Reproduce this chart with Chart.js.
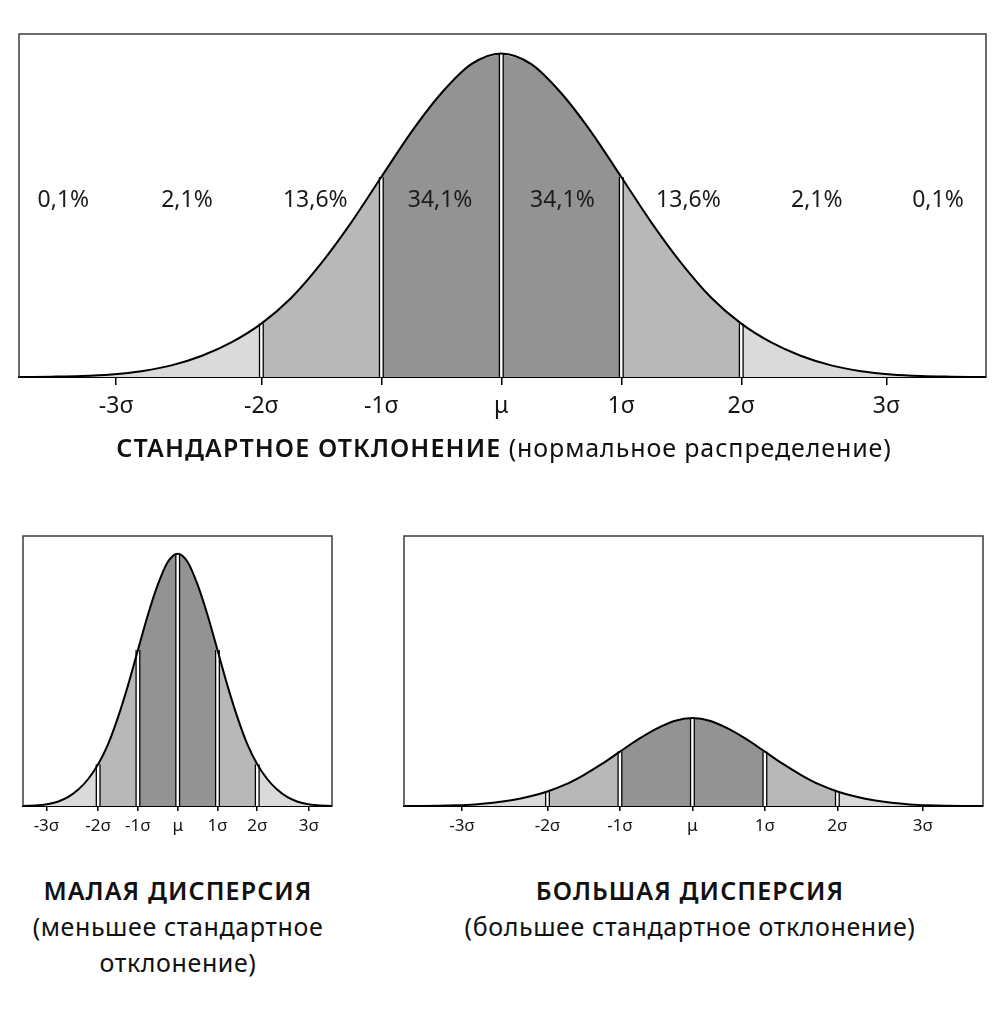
<!DOCTYPE html>
<html lang="ru">
<head>
<meta charset="utf-8">
<title>Стандартное отклонение</title>
<script src="https://cdn.jsdelivr.net/npm/chart.js@4.4.1/dist/chart.umd.min.js"></script>
<style>
  html, body { margin: 0; padding: 0; background: #fff; }
  body { width: 1006px; height: 1024px; position: relative; overflow: hidden; font-family: "Noto Sans", sans-serif; color: #111; }
  canvas { position: absolute; }
  .caption { position: absolute; text-align: center; font-size: 25px; line-height: 36px; letter-spacing: 0.6px; white-space: nowrap; z-index: 2; }
  .caption b { font-weight: 600; letter-spacing: 1.1px; }
  .wide { letter-spacing: 0.9px; }
</style>
</head>
<body>
<canvas id="mainChart" width="1006" height="430" style="left:0;top:0"></canvas>
<canvas id="narrowChart" width="360" height="340" style="left:0;top:500px"></canvas>
<canvas id="wideChart" width="626" height="340" style="left:380px;top:500px"></canvas>

<div class="caption wide" style="left:0;top:429px;width:1008px"><b>СТАНДАРТНОЕ ОТКЛОНЕНИЕ</b> (нормальное распределение)</div>
<div class="caption" style="left:3px;top:872px;width:350px"><b>МАЛАЯ ДИСПЕРСИЯ</b><br>(меньшее стандартное<br>отклонение)</div>
<div class="caption" style="left:390px;top:872px;width:600px"><b>БОЛЬШАЯ ДИСПЕРСИЯ</b><br>(большее стандартное отклонение)</div>

<script>
// bell curve: position in sigma, height relative to the peak
const sigmaSteps = [-4, -3.75, -3.5, -3.25, -3, -2.75, -2.5, -2.25, -2, -1.75, -1.5, -1.25, -1, -0.75, -0.5, -0.25,
                    0, 0.25, 0.5, 0.75, 1, 1.25, 1.5, 1.75, 2, 2.25, 2.5, 2.75, 3, 3.25, 3.5, 3.75, 4];
const curveHeights = [0, 0.001, 0.003, 0.008, 0.018, 0.036, 0.065, 0.107, 0.165, 0.245, 0.352, 0.478, 0.618, 0.757, 0.877, 0.967,
                      1, 0.967, 0.877, 0.757, 0.618, 0.478, 0.352, 0.245, 0.165, 0.107, 0.065, 0.036, 0.018, 0.008, 0.003, 0.001, 0];

// shaded bands between the dividers
const bandEdges = [-4, -2, -1, 0, 1, 2, 4];
const bandShades = ["#dadada", "#b8b8b8", "#939393", "#939393", "#b8b8b8", "#dadada"];
const dividerPositions = [-2, -1, 0, 1, 2];

// axis ticks
const tickLabels = ["-3σ", "-2σ", "-1σ", "μ", "1σ", "2σ", "3σ"];
const mainTicks = [-3.21, -2, -1, 0, 1, 2, 3.21];
const narrowTicks = [-3.3, -2, -1, 0, 1, 2, 3.3];
const wideTicks = [-3.18, -2, -1, 0, 1, 2, 3.18];

// share of values in each band (top chart)
const shareLabels = ["0,1%", "2,1%", "13,6%", "34,1%", "34,1%", "13,6%", "2,1%", "0,1%"];
const sharePositions = [-3.65, -2.62, -1.55, -0.51, 0.51, 1.56, 2.63, 3.64];
const shareLevel = 0.546;

function curvePoints(from, to) {
  const pts = [];
  sigmaSteps.forEach((s, i) => {
    if (s >= from && s <= to) pts.push({ x: s, y: curveHeights[i] });
  });
  return pts;
}

function buildDatasets() {
  const sets = [];
  // outline on top
  sets.push({
    data: curvePoints(-4, 4),
    borderColor: "#000",
    borderWidth: 2,
    fill: false,
    cubicInterpolationMode: "monotone",
    order: 0,
  });
  // dividers: black stroke with a white core
  dividerPositions.forEach((p) => {
    const h = curveHeights[sigmaSteps.indexOf(p)];
    const seg = [{ x: p, y: 0 }, { x: p, y: h }];
    sets.push({ data: seg, borderColor: "#fff", borderWidth: 2.4, tension: 0, fill: false, order: 1 });
    sets.push({ data: seg, borderColor: "#000", borderWidth: 5, tension: 0, fill: false, order: 2 });
  });
  bandShades.forEach((shade, i) => {
    sets.push({
      data: curvePoints(bandEdges[i], bandEdges[i + 1]),
      borderColor: "rgba(0,0,0,0)",
      borderWidth: 1,
      backgroundColor: shade,
      fill: "origin",
      cubicInterpolationMode: "monotone",
      order: 3,
    });
  });
  return sets;
}

const framePlugin = {
  id: "frame",
  afterDraw(chart) {
    const { ctx, chartArea: a } = chart;
    ctx.save();
    ctx.strokeStyle = "#3c3c3c";
    ctx.lineWidth = 1.5;
    ctx.beginPath();
    ctx.moveTo(a.left, a.bottom);
    ctx.lineTo(a.left, a.top);
    ctx.lineTo(a.right, a.top);
    ctx.lineTo(a.right, a.bottom);
    ctx.stroke();
    ctx.restore();
  },
};

const shareLabelPlugin = {
  id: "shareLabels",
  afterDatasetsDraw(chart) {
    const { ctx, scales } = chart;
    ctx.save();
    ctx.font = '23px "Noto Sans"';
    ctx.fillStyle = "#1b1b1b";
    ctx.textAlign = "center";
    ctx.textBaseline = "middle";
    shareLabels.forEach((t, i) => {
      ctx.fillText(t, scales.x.getPixelForValue(sharePositions[i]), scales.y.getPixelForValue(shareLevel));
    });
    ctx.restore();
  },
};

function makeChart(id, cfg, extraPlugins) {
  return new Chart(document.getElementById(id), {
    type: "line",
    data: { datasets: buildDatasets() },
    options: {
      responsive: false,
      animation: false,
      events: [],
      layout: { padding: cfg.padding },
      elements: { point: { radius: 0 } },
      plugins: { legend: { display: false }, tooltip: { enabled: false } },
      scales: {
        x: {
          type: "linear",
          min: cfg.xMin,
          max: cfg.xMax,
          bounds: "data",
          z: 1,
          afterFit: (s) => { s.height = cfg.axisHeight; },
          afterBuildTicks: (s) => { s.ticks = cfg.ticks.map((v) => ({ value: v })); },
          grid: { drawOnChartArea: false, drawTicks: true, tickLength: cfg.tickLength, color: "#000", lineWidth: 1.5 },
          border: { display: true, color: "#000", width: 2 },
          ticks: {
            autoSkip: false,
            maxRotation: 0,
            padding: cfg.tickPadding,
            color: "#141414",
            font: { family: "Noto Sans", size: cfg.tickSize },
            callback: (v, i) => tickLabels[i],
          },
        },
        y: { display: false, min: 0, max: cfg.yMax },
      },
    },
    plugins: [framePlugin].concat(extraPlugins || []),
  });
}

makeChart("mainChart", {
  padding: { left: 19, right: 20, top: 34, bottom: 0 },
  xMin: -4.02, xMax: 4.04, yMax: 1.06,
  axisHeight: 53, tickLength: 8, tickPadding: 8, tickSize: 23,
  ticks: mainTicks,
}, [shareLabelPlugin]);

makeChart("narrowChart", {
  padding: { left: 23, right: 28, top: 36, bottom: 0 },
  xMin: -3.89, xMax: 3.88, yMax: 1.07,
  axisHeight: 34, tickLength: 5, tickPadding: 5, tickSize: 17,
  ticks: narrowTicks,
});

makeChart("wideChart", {
  padding: { left: 24, right: 23, top: 36, bottom: 0 },
  xMin: -3.98, xMax: 4.01, yMax: 3.07,
  axisHeight: 34, tickLength: 5, tickPadding: 5, tickSize: 17,
  ticks: wideTicks,
});
</script>
</body>
</html>
